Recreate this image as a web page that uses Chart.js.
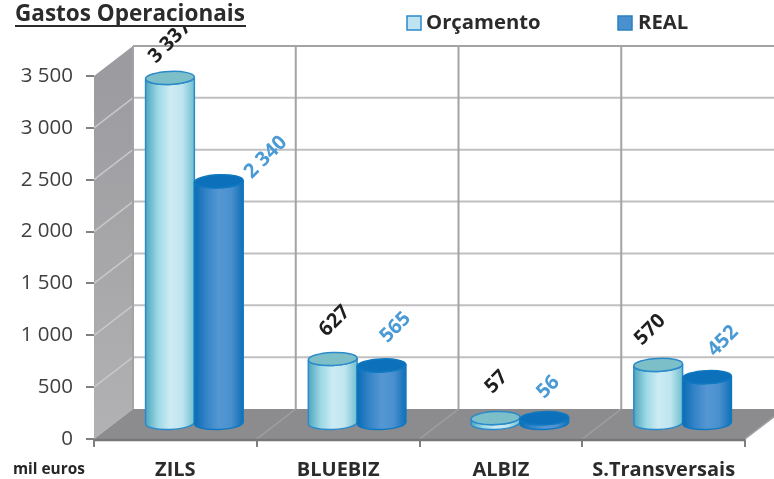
<!DOCTYPE html>
<html>
<head>
<meta charset="utf-8">
<title>Gastos Operacionais</title>
<script src="https://cdn.jsdelivr.net/npm/chart.js@4/dist/chart.umd.js"></script>
<style>
	html, body { margin: 0; padding: 0; background: #fff; }
	canvas { display: block; }
</style>
</head>
<body>
<canvas id="diagram" width="774" height="479"></canvas>
<script>
const categories = ['ZILS', 'BLUEBIZ', 'ALBIZ', 'S.Transversais'];
const orcamento = [3337, 627, 57, 570];
const real = [2340, 565, 56, 452];

// hand placed labels in the original, offsets from the top of each cylinder
const labelNudge = [
	[[0, -36], [47, -24]],
	[[2, -38], [14, -38]],
	[[1, -36], [4, -31]],
	[[-8, -35], [16, -36]]
];

const FONT = '"Open Sans", sans-serif';
const WALL_DX = 39;
const WALL_DY = -30;
const BAR_DX = 19;
const BAR_DY = -15;
const RY = 6.5;

function formatNumber(v) {
	return String(v).replace(/\B(?=(\d{3})+$)/g, ' ');
}

const colors = [
	{
		stops: ['#4fa6bd', '#9bd8e4', '#cdebf3', '#bfe5ef', '#6fbfd0'],
		top: '#7dbfc9', line: '#2a8aca', label: '#1f1f1f'
	},
	{
		stops: ['#0a6cb4', '#3584c8', '#5597d3', '#4a90cf', '#0f70b8'],
		top: '#0c71ba', line: '#0f78c0', label: '#4a9ad6'
	}
];

// walls and floor, behind the bars
const roomPlugin = {
	id: 'room',
	beforeDatasetsDraw(chart) {
		const { ctx, scales: { x, y } } = chart;
		const left = x.left, right = x.right, top = y.top, bottom = y.bottom;
		const step = (right - left) / categories.length;

		ctx.save();

		const wall = ctx.createLinearGradient(0, top, 0, bottom);
		wall.addColorStop(0, '#9c9ca0');
		wall.addColorStop(1, '#b2b2b4');
		ctx.fillStyle = wall;
		ctx.beginPath();
		ctx.moveTo(left, top);
		ctx.lineTo(left + WALL_DX, top + WALL_DY);
		ctx.lineTo(left + WALL_DX, bottom + WALL_DY);
		ctx.lineTo(left, bottom);
		ctx.closePath();
		ctx.fill();

		ctx.fillStyle = '#8c8c8e';
		ctx.beginPath();
		ctx.moveTo(left, bottom);
		ctx.lineTo(right, bottom);
		ctx.lineTo(right + WALL_DX, bottom + WALL_DY);
		ctx.lineTo(left + WALL_DX, bottom + WALL_DY);
		ctx.closePath();
		ctx.fill();

		// horizontal grid, back wall and side wall
		y.ticks.forEach((tick) => {
			const py = y.getPixelForValue(tick.value);
			if (tick.value > 0) {
				ctx.strokeStyle = tick.value === 3500 ? '#a3a3a6' : '#c0c0c2';
				ctx.lineWidth = 2;
				ctx.beginPath();
				ctx.moveTo(left + WALL_DX, py + WALL_DY);
				ctx.lineTo(right + WALL_DX, py + WALL_DY);
				ctx.stroke();
			}
			if (tick.value > 0 && tick.value < 3500) {
				ctx.strokeStyle = '#c8c8ca';
				ctx.lineWidth = 1.5;
				ctx.beginPath();
				ctx.moveTo(left, py);
				ctx.lineTo(left + WALL_DX, py + WALL_DY);
				ctx.stroke();
			}
		});

		// vertical grid on back wall, and its trace over the floor
		for (let i = 0; i <= categories.length; i++) {
			const px = left + i * step;
			ctx.strokeStyle = '#a3a3a6';
			ctx.lineWidth = 2;
			ctx.beginPath();
			ctx.moveTo(px + WALL_DX, top + WALL_DY);
			ctx.lineTo(px + WALL_DX, bottom + WALL_DY);
			ctx.stroke();
			if (i > 0) {
				ctx.strokeStyle = '#a0a0a2';
				ctx.lineWidth = 1.5;
				ctx.beginPath();
				ctx.moveTo(px, bottom);
				ctx.lineTo(px + WALL_DX, bottom + WALL_DY);
				ctx.stroke();
			}
		}

		// edge of the floor
		ctx.strokeStyle = '#77777a';
		ctx.lineWidth = 2.5;
		ctx.beginPath();
		ctx.moveTo(left, bottom + 1);
		ctx.lineTo(right, bottom + 1);
		ctx.stroke();

		ctx.restore();
	}
};

function drawCylinder(ctx, bar, color) {
	const { x, y, base, width } = bar.getProps(['x', 'y', 'base', 'width'], true);
	const cx = x + BAR_DX;
	const topY = y + BAR_DY;
	const baseY = base + BAR_DY;
	const rx = width / 2;
	const tilt = -0.04;

	const body = ctx.createLinearGradient(cx - rx, 0, cx + rx, 0);
	color.stops.forEach((stop, i) => body.addColorStop(i / (color.stops.length - 1), stop));

	ctx.beginPath();
	ctx.ellipse(cx, baseY, rx, RY, tilt, 0, Math.PI);
	ctx.ellipse(cx, topY, rx, RY, tilt, Math.PI, 0, true);
	ctx.closePath();
	ctx.fillStyle = body;
	ctx.fill();
	ctx.strokeStyle = color.line;
	ctx.lineWidth = 1.5;
	ctx.stroke();

	ctx.beginPath();
	ctx.ellipse(cx, topY, rx, RY, tilt, 0, Math.PI * 2);
	ctx.fillStyle = color.top;
	ctx.fill();
	ctx.stroke();
}

// bars come from the scales, only their look is replaced here
const cylinderPlugin = {
	id: 'cylinders',
	afterDatasetsDraw(chart) {
		const ctx = chart.ctx;
		ctx.save();
		chart.data.datasets.forEach((dataset, d) => {
			const meta = chart.getDatasetMeta(d);
			meta.data.forEach((bar) => drawCylinder(ctx, bar, colors[d]));
		});
		chart.data.datasets.forEach((dataset, d) => {
			const meta = chart.getDatasetMeta(d);
			meta.data.forEach((bar, i) => {
				const nudge = labelNudge[i][d];
				ctx.save();
				ctx.translate(bar.x + BAR_DX + nudge[0], bar.y + BAR_DY + nudge[1]);
				ctx.rotate(-Math.PI / 4);
				ctx.font = 'bold 20px ' + FONT;
				ctx.fillStyle = colors[d].label;
				ctx.textAlign = 'center';
				ctx.textBaseline = 'middle';
				ctx.fillText(formatNumber(dataset.data[i]), 0, 0);
				ctx.restore();
			});
		});
		ctx.restore();
	}
};

// title, legend and the unit, on top of everything
const textPlugin = {
	id: 'texts',
	afterDraw(chart) {
		const ctx = chart.ctx;
		ctx.save();

		// the title box hides the tip of the first label
		ctx.fillStyle = '#fff';
		ctx.fillRect(0, 0, 250, 27);

		ctx.fillStyle = '#2b2b2b';
		ctx.textBaseline = 'alphabetic';
		ctx.font = 'bold 22.5px ' + FONT;
		ctx.fillText('Gastos Operacionais', 15, 21);
		ctx.fillRect(15, 25, 231, 2);

		const entries = [[407, 426], [618, 638]];
		chart.data.datasets.forEach((dataset, d) => {
			const [boxX, textX] = entries[d];
			ctx.fillStyle = d === 0 ? '#bfe3f0' : '#4a90cf';
			ctx.strokeStyle = d === 0 ? '#2a8aca' : '#2a80c4';
			ctx.lineWidth = 1.5;
			ctx.fillRect(boxX, 16, 14, 14);
			ctx.strokeRect(boxX, 16, 14, 14);
			ctx.fillStyle = '#2b2b2b';
			ctx.font = 'bold 20.3px ' + FONT;
			ctx.fillText(dataset.label, textX, 29);
		});

		ctx.fillStyle = '#262626';
		ctx.font = 'bold 15.4px ' + FONT;
		ctx.fillText('mil euros', 13, 474);

		ctx.restore();
	}
};

new Chart(document.getElementById('diagram'), {
	type: 'bar',
	data: {
		labels: categories,
		datasets: [
			{ label: 'Orçamento', data: orcamento, backgroundColor: 'rgba(0, 0, 0, 0)' },
			{ label: 'REAL', data: real, backgroundColor: 'rgba(0, 0, 0, 0)' }
		]
	},
	plugins: [roomPlugin, cylinderPlugin, textPlugin],
	options: {
		responsive: false,
		animation: false,
		devicePixelRatio: 1,
		layout: { padding: { top: 76, right: 29, left: 0, bottom: 0 } },
		categoryPercentage: 0.6,
		barPercentage: 1,
		plugins: {
			legend: { display: false },
			tooltip: { enabled: false }
		},
		scales: {
			x: {
				afterFit(scale) { scale.height = 40; },
				border: { display: false },
				grid: { drawOnChartArea: false, color: '#808083', lineWidth: 2, tickLength: 8 },
				ticks: {
					color: '#2b2b2b',
					padding: 11,
					maxRotation: 0,
					autoSkip: false,
					font: { family: FONT, size: 20, weight: 'bold' }
				}
			},
			y: {
				min: 0,
				max: 3500,
				afterFit(scale) { scale.width = 94; },
				border: { display: false },
				grid: { drawOnChartArea: false, color: '#808083', lineWidth: 2, tickLength: 8 },
				ticks: {
					stepSize: 500,
					color: '#404040',
					padding: 13,
					font: { family: FONT, size: 20.5 },
					callback: (value) => formatNumber(value)
				}
			}
		}
	}
});
</script>
</body>
</html>
